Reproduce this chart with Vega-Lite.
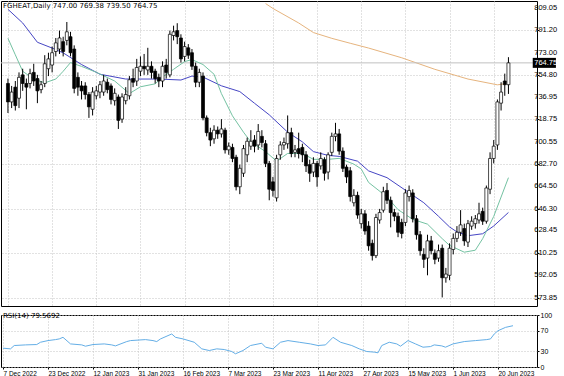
{
"$schema":"https://vega.github.io/schema/vega-lite/v6.json",
"padding":0,
"background":"white",
"spacing":3,
"datasets":{
"ohlc":[
{"i":0,"o":748,"h":752,"l":724,"c":733},{"i":1,"o":733,"h":746,"l":728,"c":741},{"i":2,"o":745,"h":750,"l":726,"c":730},{"i":3,"o":736,"h":757,"l":728,"c":753},{"i":4,"o":755,"h":760,"l":742,"c":748},{"i":5,"o":748,"h":752,"l":727,"c":745},{"i":6,"o":748,"h":760,"l":744,"c":756},{"i":7,"o":757,"h":764,"l":746,"c":750},{"i":8,"o":752,"h":755,"l":732,"c":742},{"i":9,"o":743,"h":750,"l":740,"c":747},
{"i":10,"o":748,"h":771,"l":745,"c":764},{"i":11,"o":760,"h":773,"l":754,"c":768},{"i":12,"o":763,"h":778,"l":757,"c":773},{"i":13,"o":774,"h":785,"l":770,"c":781},{"i":14,"o":776,"h":791,"l":772,"c":785},{"i":15,"o":782,"h":786,"l":770,"c":774},{"i":16,"o":783,"h":798,"l":779,"c":790},{"i":17,"o":786,"h":790,"l":770,"c":773},{"i":18,"o":776,"h":779,"l":740,"c":744},{"i":19,"o":753,"h":757,"l":738,"c":745},
{"i":20,"o":746,"h":750,"l":735,"c":742},{"i":21,"o":746,"h":749,"l":735,"c":739},{"i":22,"o":739,"h":741,"l":720,"c":729},{"i":23,"o":727,"h":745,"l":722,"c":741},{"i":24,"o":738,"h":746,"l":735,"c":742},{"i":25,"o":741,"h":750,"l":736,"c":747},{"i":26,"o":741,"h":755,"l":738,"c":750},{"i":27,"o":749,"h":752,"l":740,"c":743},{"i":28,"o":746,"h":748,"l":731,"c":735},{"i":29,"o":734,"h":744,"l":730,"c":740},
{"i":30,"o":737,"h":739,"l":711,"c":718},{"i":31,"o":719,"h":740,"l":716,"c":737},{"i":32,"o":734,"h":745,"l":731,"c":739},{"i":33,"o":738,"h":754,"l":735,"c":751},{"i":34,"o":752,"h":760,"l":745,"c":749},{"i":35,"o":750,"h":768,"l":746,"c":761},{"i":36,"o":758,"h":770,"l":754,"c":762},{"i":37,"o":762,"h":772,"l":755,"c":760},{"i":38,"o":759,"h":777,"l":755,"c":762},{"i":39,"o":762,"h":766,"l":752,"c":757},
{"i":40,"o":758,"h":760,"l":748,"c":752},{"i":41,"o":753,"h":756,"l":745,"c":750},{"i":42,"o":750,"h":766,"l":745,"c":762},{"i":43,"o":763,"h":768,"l":752,"c":757},{"i":44,"o":755,"h":791,"l":753,"c":788},{"i":45,"o":787,"h":795,"l":783,"c":790},{"i":46,"o":791,"h":797,"l":780,"c":786},{"i":47,"o":785,"h":788,"l":765,"c":768},{"i":48,"o":770,"h":782,"l":766,"c":778},{"i":49,"o":777,"h":780,"l":768,"c":771},
{"i":50,"o":773,"h":776,"l":759,"c":762},{"i":51,"o":762,"h":765,"l":745,"c":749},{"i":52,"o":749,"h":760,"l":745,"c":757},{"i":53,"o":754,"h":757,"l":718,"c":720},{"i":54,"o":720,"h":722,"l":705,"c":708},{"i":55,"o":708,"h":712,"l":697,"c":702},{"i":56,"o":703,"h":714,"l":699,"c":710},{"i":57,"o":710,"h":713,"l":703,"c":707},{"i":58,"o":707,"h":719,"l":704,"c":711},{"i":59,"o":710,"h":712,"l":691,"c":694},
{"i":60,"o":694,"h":700,"l":690,"c":697},{"i":61,"o":696,"h":699,"l":684,"c":687},{"i":62,"o":688,"h":690,"l":661,"c":664},{"i":63,"o":664,"h":682,"l":658,"c":679},{"i":64,"o":675,"h":698,"l":672,"c":695},{"i":65,"o":690,"h":704,"l":684,"c":701},{"i":66,"o":697,"h":710,"l":694,"c":701},{"i":67,"o":702,"h":706,"l":692,"c":697},{"i":68,"o":698,"h":715,"l":694,"c":709},{"i":69,"o":705,"h":710,"l":696,"c":700},
{"i":70,"o":699,"h":702,"l":680,"c":683},{"i":71,"o":683,"h":685,"l":653,"c":662},{"i":72,"o":668,"h":672,"l":656,"c":661},{"i":73,"o":655,"h":690,"l":652,"c":687},{"i":74,"o":690,"h":701,"l":686,"c":698},{"i":75,"o":698,"h":704,"l":694,"c":700},{"i":76,"o":699,"h":722,"l":695,"c":708},{"i":77,"o":708,"h":712,"l":688,"c":691},{"i":78,"o":692,"h":698,"l":688,"c":694},{"i":79,"o":695,"h":708,"l":687,"c":691},
{"i":80,"o":696,"h":699,"l":684,"c":690},{"i":81,"o":690,"h":693,"l":676,"c":681},{"i":82,"o":682,"h":686,"l":668,"c":675},{"i":83,"o":676,"h":688,"l":672,"c":683},{"i":84,"o":683,"h":685,"l":664,"c":672},{"i":85,"o":681,"h":692,"l":678,"c":687},{"i":86,"o":686,"h":688,"l":669,"c":675},{"i":87,"o":676,"h":692,"l":670,"c":690},{"i":88,"o":692,"h":708,"l":689,"c":705},{"i":89,"o":705,"h":716,"l":701,"c":707},
{"i":90,"o":707,"h":711,"l":690,"c":693},{"i":91,"o":693,"h":696,"l":676,"c":679},{"i":92,"o":680,"h":682,"l":667,"c":672},{"i":93,"o":677,"h":680,"l":652,"c":656},{"i":94,"o":651,"h":662,"l":648,"c":657},{"i":95,"o":657,"h":660,"l":638,"c":641},{"i":96,"o":634,"h":646,"l":630,"c":642},{"i":97,"o":642,"h":645,"l":625,"c":628},{"i":98,"o":632,"h":636,"l":612,"c":616},{"i":99,"o":618,"h":621,"l":604,"c":608},
{"i":100,"o":608,"h":642,"l":606,"c":639},{"i":101,"o":637,"h":646,"l":634,"c":643},{"i":102,"o":645,"h":664,"l":643,"c":660},{"i":103,"o":661,"h":667,"l":650,"c":653},{"i":104,"o":653,"h":656,"l":631,"c":643},{"i":105,"o":643,"h":646,"l":636,"c":640},{"i":106,"o":640,"h":643,"l":623,"c":627},{"i":107,"o":635,"h":638,"l":622,"c":626},{"i":108,"o":635,"h":662,"l":632,"c":659},{"i":109,"o":656,"h":665,"l":652,"c":661},
{"i":110,"o":659,"h":662,"l":635,"c":638},{"i":111,"o":638,"h":641,"l":621,"c":625},{"i":112,"o":625,"h":628,"l":608,"c":612},{"i":113,"o":609,"h":614,"l":598,"c":605},{"i":114,"o":606,"h":625,"l":592,"c":620},{"i":115,"o":620,"h":624,"l":609,"c":612},{"i":116,"o":610,"h":613,"l":601,"c":605},{"i":117,"o":606,"h":617,"l":603,"c":612},{"i":118,"o":614,"h":617,"l":574,"c":590},{"i":119,"o":590,"h":598,"l":586,"c":593},
{"i":120,"o":592,"h":618,"l":588,"c":614},{"i":121,"o":613,"h":626,"l":609,"c":622},{"i":122,"o":622,"h":632,"l":619,"c":627},{"i":123,"o":627,"h":645,"l":624,"c":633},{"i":124,"o":630,"h":634,"l":616,"c":620},{"i":125,"o":619,"h":637,"l":615,"c":634},{"i":126,"o":632,"h":640,"l":629,"c":636},{"i":127,"o":634,"h":641,"l":630,"c":638},{"i":128,"o":637,"h":651,"l":634,"c":642},{"i":129,"o":644,"h":647,"l":633,"c":636},
{"i":130,"o":636,"h":665,"l":634,"c":663},{"i":131,"o":662,"h":692,"l":658,"c":687},{"i":132,"o":687,"h":702,"l":683,"c":697},{"i":133,"o":698,"h":735,"l":694,"c":733},{"i":134,"o":732,"h":749,"l":726,"c":741},{"i":135,"o":750,"h":756,"l":738,"c":747},{"i":136,"o":747,"h":769.38,"l":739.5,"c":764.75}
],
"blue":[
{"i":0,"v":808.3},{"i":4,"v":797.2},{"i":8,"v":781.5},{"i":12,"v":776.8},{"i":15,"v":772.9},{"i":20,"v":763.4},{"i":25,"v":755.5},{"i":32,"v":751.6},{"i":41,"v":751.6},{"i":47,"v":750.8},{"i":50,"v":754},{"i":53,"v":753.2},{"i":58,"v":746.1},{"i":63,"v":741.4},{"i":67,"v":731.9},{"i":71,"v":722.5},{"i":76,"v":708.4},{"i":80,"v":700.5},{"i":83,"v":692.6},{"i":87,"v":689.5},{"i":90,"v":688.7},{"i":95,"v":684.8},{"i":98,"v":676.9},{"i":103,"v":671.4},{"i":108,"v":661.2},{"i":113,"v":651},{"i":117,"v":640},{"i":120,"v":631.3},{"i":122,"v":627.3},{"i":125,"v":624.2},{"i":129,"v":625.8},{"i":132,"v":632.1},{"i":136,"v":643.1}
],
"green":[
{"i":0,"v":784.7},{"i":2,"v":771.3},{"i":4,"v":757.9},{"i":7,"v":751.6},{"i":10,"v":748.5},{"i":13,"v":751.6},{"i":15,"v":757.9},{"i":17,"v":765},{"i":20,"v":761.9},{"i":24,"v":757.1},{"i":29,"v":750},{"i":33,"v":739.8},{"i":36,"v":745.3},{"i":40,"v":747.7},{"i":42,"v":753.2},{"i":45,"v":759.5},{"i":48,"v":765.8},{"i":50,"v":767.4},{"i":53,"v":763.4},{"i":56,"v":755.5},{"i":58,"v":739.8},{"i":61,"v":721.7},{"i":64,"v":708.4},{"i":66,"v":700.5},{"i":70,"v":692.6},{"i":73,"v":684.8},{"i":76,"v":691.1},{"i":80,"v":691.1},{"i":83,"v":686.3},{"i":87,"v":686.3},{"i":90,"v":687.1},{"i":94,"v":682.4},{"i":96,"v":678.5},{"i":98,"v":667.5},{"i":103,"v":655.7},{"i":106,"v":645.4},{"i":110,"v":637.5},{"i":114,"v":633.6},{"i":118,"v":621.8},{"i":120,"v":616.3},{"i":124,"v":610.8},{"i":127,"v":612.4},{"i":129,"v":621.8},{"i":132,"v":639.9},{"i":136,"v":671.4}
],
"orange":[
{"i":70,"v":813},{"i":72,"v":809},{"i":79,"v":797.2},{"i":83,"v":789.4},{"i":88,"v":784.7},{"i":93,"v":780.7},{"i":98,"v":776.8},{"i":107,"v":768.9},{"i":116,"v":759.5},{"i":125,"v":751.6},{"i":133,"v":746.9},{"i":135,"v":747.7}
],
"rsi":[
{"i":0,"v":36.2},{"i":2,"v":34.9},{"i":3,"v":41.3},{"i":6,"v":42.5},{"i":9,"v":43.2},{"i":10,"v":47.6},{"i":12,"v":50.8},{"i":14,"v":52.7},{"i":15,"v":54},{"i":16,"v":57.1},{"i":18,"v":44.4},{"i":21,"v":42.5},{"i":22,"v":40},{"i":24,"v":43.2},{"i":27,"v":44.4},{"i":29,"v":42.5},{"i":30,"v":40.6},{"i":33,"v":48.9},{"i":34,"v":50.8},{"i":38,"v":52.7},{"i":40,"v":50.8},{"i":41,"v":48.9},{"i":42,"v":54},{"i":45,"v":63.5},{"i":46,"v":57.1},{"i":48,"v":54},{"i":51,"v":47.6},{"i":53,"v":34.9},{"i":55,"v":31.7},{"i":57,"v":34.9},{"i":59,"v":33.6},{"i":61,"v":29.8},{"i":62,"v":25.4},{"i":64,"v":31.7},{"i":66,"v":41.3},{"i":69,"v":45.7},{"i":70,"v":38.1},{"i":72,"v":34.9},{"i":74,"v":47.6},{"i":76,"v":50.8},{"i":79,"v":47.6},{"i":82,"v":44.4},{"i":84,"v":41.3},{"i":86,"v":42.5},{"i":88,"v":57.1},{"i":90,"v":47.6},{"i":93,"v":41.3},{"i":95,"v":34.9},{"i":97,"v":29.8},{"i":99,"v":28.6},{"i":100,"v":27.3},{"i":101,"v":41.3},{"i":103,"v":47.6},{"i":105,"v":44.4},{"i":106,"v":40},{"i":108,"v":50.8},{"i":110,"v":44.4},{"i":112,"v":38.1},{"i":114,"v":39.3},{"i":115,"v":42.5},{"i":117,"v":40.6},{"i":118,"v":38.1},{"i":120,"v":44.4},{"i":123,"v":48.9},{"i":126,"v":50.8},{"i":129,"v":52.7},{"i":130,"v":54},{"i":131,"v":63.5},{"i":132,"v":69.8},{"i":134,"v":76.2},{"i":136,"v":79.4}
],
"yticks":[
{"p":573.85,"t":"573.85"},{"p":592.05,"t":"592.05"},{"p":610.25,"t":"610.25"},{"p":628.45,"t":"628.45"},{"p":646.3,"t":"646.30"},{"p":664.5,"t":"664.50"},{"p":682.7,"t":"682.70"},{"p":700.55,"t":"700.55"},{"p":718.75,"t":"718.75"},{"p":736.95,"t":"736.95"},{"p":754.8,"t":"754.80"},{"p":773,"t":"773.00"},{"p":791.2,"t":"791.20"},{"p":809.05,"t":"809.05"}
],
"last":[{"p":764.75,"t":"764.75"}]
},
"vconcat":[
{
"width":536,"height":305,
"title":{"text":"FGHEAT,Daily  747.00 769.38 739.50 764.75","anchor":"start","offset":-8,"fontSize":7,"fontWeight":"normal","font":"DejaVu Sans","color":"#000","frame":"group","dx":2},
"layer":[
{"data":{"name":"orange"},"mark":{"type":"line","color":"#e6b47e","strokeWidth":1,"clip":true},
 "encoding":{
  "x":{"field":"i","type":"quantitative","scale":{"domain":[-0.533,142.4],"nice":false,"zero":false},
       "axis":{"orient":"bottom","values":[0,12,24,36,48,60,72,84,96,108,120,132],"labels":false,"ticks":false,"domain":false,"grid":true,"title":null}},
  "y":{"field":"v","type":"quantitative","scale":{"domain":[571.1,811.0],"nice":false,"zero":false},
       "axis":{"orient":"right","values":[573.85,592.05,610.25,628.45,646.3,664.5,682.7,700.55,718.75,736.95,754.8,773,791.2,809.05],"labels":false,"ticks":true,"tickSize":2,"grid":true,"title":null}}
 }},
{"data":{"name":"last"},"mark":{"type":"rule","color":"#c0c0c0","strokeWidth":1},"encoding":{"y":{"field":"p","type":"quantitative"}}},
{"data":{"name":"blue"},"mark":{"type":"line","color":"#4646c4","strokeWidth":1,"clip":true},
 "encoding":{"x":{"field":"i","type":"quantitative"},"y":{"field":"v","type":"quantitative"}}},
{"data":{"name":"green"},"mark":{"type":"line","color":"#74c2a2","strokeWidth":1,"clip":true},
 "encoding":{"x":{"field":"i","type":"quantitative"},"y":{"field":"v","type":"quantitative"}}},
{"data":{"name":"ohlc"},"mark":{"type":"rule","color":"#000","strokeWidth":1},
 "encoding":{"x":{"field":"i","type":"quantitative"},"y":{"field":"l","type":"quantitative"},"y2":{"field":"h"}}},
{"data":{"name":"ohlc"},"mark":{"type":"bar","size":3,"stroke":"#000","strokeWidth":0.7},
 "encoding":{"x":{"field":"i","type":"quantitative"},"y":{"field":"o","type":"quantitative"},"y2":{"field":"c"},
  "fill":{"condition":{"test":"datum.c < datum.o","value":"#000"},"value":"#fff"}}},
{"data":{"name":"yticks"},"mark":{"type":"text","color":"#000","fontSize":7.5,"font":"Liberation Sans","align":"left","baseline":"middle","clip":false},
 "encoding":{"x":{"datum":143.0},"y":{"field":"p","type":"quantitative"},"text":{"field":"t"}}},
{"data":{"name":"last"},"mark":{"type":"bar","size":10,"color":"#000","clip":false},
 "encoding":{"x":{"datum":142.6},"x2":{"datum":148.9},"y":{"field":"p","type":"quantitative"}}},
{"data":{"name":"last"},"mark":{"type":"text","color":"#fff","fontSize":7.5,"font":"Liberation Sans","align":"left","baseline":"middle","clip":false},
 "encoding":{"x":{"datum":143.0},"y":{"field":"p","type":"quantitative"},"text":{"field":"t"}}}
]
},
{
"width":536,"height":52,
"title":{"text":"RSI(14) 79.5692","anchor":"start","offset":-8,"fontSize":7,"fontWeight":"normal","font":"DejaVu Sans","color":"#000","frame":"group","dx":2},
"data":{"name":"rsi"},
"mark":{"type":"line","color":"#64aee6","strokeWidth":1},
"encoding":{
 "x":{"field":"i","type":"quantitative","scale":{"domain":[-0.533,142.4],"nice":false,"zero":false},
   "axis":{"orient":"bottom","values":[0,12,24,36,48,60,72,84,96,108,120,132],"grid":true,"title":null,"labelAlign":"left","labelPadding":1,"tickSize":2,"labelFlush":false,"labelOverlap":false,"labelBound":false,"labelFont":"Liberation Sans","labelFontSize":6.5,
     "labelExpr":"['7 Dec 2022','23 Dec 2022','12 Jan 2023','31 Jan 2023','16 Feb 2023','7 Mar 2023','23 Mar 2023','11 Apr 2023','27 Apr 2023','15 May 2023','1 Jun 2023','20 Jun 2023'][round(datum.value/12)]"}},
 "y":{"field":"v","type":"quantitative","scale":{"domain":[0,100],"nice":false,"zero":false},
   "axis":{"orient":"right","values":[0,30,70,100],"format":"d","grid":true,"title":null,"labelOverlap":false,"labelFont":"Liberation Sans","labelFontSize":7,"tickSize":2,"labelPadding":1}}
}
}
],
"config":{
 "view":{"stroke":"#000","strokeWidth":1},
 "axis":{"labelFont":"DejaVu Sans","labelFontSize":7,"labelColor":"#000","tickColor":"#000","tickSize":3,"labelPadding":2,"domain":false,"gridColor":"#c4c4c4","gridDash":[1,2],"gridWidth":1,"labelOverlap":false}
}
}
